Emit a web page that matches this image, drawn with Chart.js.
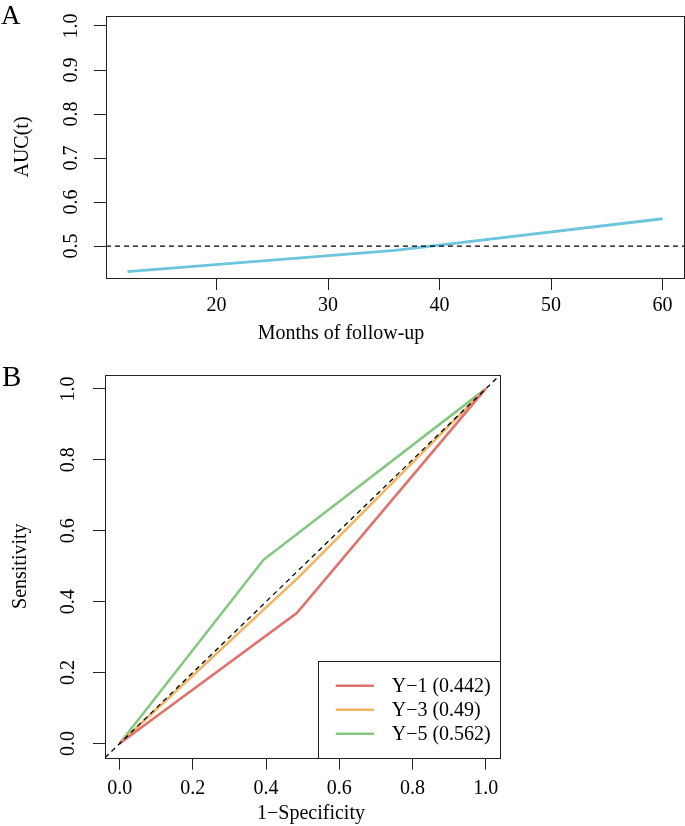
<!DOCTYPE html>
<html><head><meta charset="utf-8">
<script src="https://cdn.jsdelivr.net/npm/chart.js@4/dist/chart.umd.min.js"></script>
<style>
html,body{margin:0;padding:0;background:#fff;}
#wrap{position:relative;width:685px;height:826px;overflow:hidden;background:#fff;}
canvas{position:absolute;left:0;}
.lab{position:absolute;font-family:'Liberation Serif',serif;color:#000;line-height:1;}
</style></head><body>
<div id="wrap">
<canvas id="cA" width="685" height="350" style="top:0"></canvas>
<canvas id="cB" width="520" height="476" style="top:350px"></canvas>
<div class="lab" style="left:1px;top:2px;font-size:27px">A</div>
<div class="lab" style="left:2px;top:362px;font-size:29px">B</div>
</div>
<script>
// ---- Panel A: time-dependent AUC ----
const monthsA = [12, 36, 60];
const aucA = [0.442, 0.490, 0.562];
const xTicksA = [20, 30, 40, 50, 60];
const yTicksA = [0.5, 0.6, 0.7, 0.8, 0.9, 1.0];
const refAUC = 0.5;

// ---- Panel B: ROC curves ----
const rocLabels = ['Y\u22121 (0.442)', 'Y\u22123 (0.49)', 'Y\u22125 (0.562)'];
const fprY1 = [0, 0.484, 1];
const tprY1 = [0, 0.368, 1];
const fprY3 = [0, 0.490, 1];
const tprY3 = [0, 0.470, 1];
const fprY5 = [0, 0.393, 1];
const tprY5 = [0, 0.518, 1];
const rocTicks = [0.0, 0.2, 0.4, 0.6, 0.8, 1.0];

const SERIF = "'Liberation Serif', 'Times New Roman', serif";
const pts = (xs, ys) => xs.map((x, i) => ({x, y: ys[i]}));
const setTicks = arr => s => { s.ticks = arr.map(v => ({value: v})); };

const framePlugin = {
  id: 'frame',
  afterDraw(chart) {
    const a = chart.chartArea, c = chart.ctx;
    c.save();
    c.strokeStyle = '#222'; c.lineWidth = 1;
    const l = Math.round(a.left) + 0.5, t = Math.round(a.top) + 0.5;
    const r = Math.round(a.right) + 0.5, b = Math.round(a.bottom) + 0.5;
    c.strokeRect(l, t, r - l, b - t);
    c.restore();
  }
};

const xTitlePlugin = {
  id: 'xTitle',
  afterDraw(chart, args, o) {
    if (!o.text) return;
    const c = chart.ctx;
    c.save();
    c.font = '20px ' + SERIF; c.fillStyle = '#000';
    c.textAlign = 'center'; c.textBaseline = 'middle';
    c.fillText(o.text, o.x, o.y);
    c.restore();
  }
};

const refLinePlugin = {
  id: 'refLine',
  afterDatasetsDraw(chart, args, o) {
    const c = chart.ctx, xs = chart.scales.x, ys = chart.scales.y, a = chart.chartArea;
    c.save();
    c.beginPath();
    c.rect(a.left, a.top, a.right - a.left, a.bottom - a.top);
    c.clip();
    c.strokeStyle = '#000'; c.lineWidth = 1.3; c.setLineDash([5, 4]);
    c.beginPath();
    if (o.mode === 'h') {
      const y = ys.getPixelForValue(o.value);
      c.moveTo(a.left, y); c.lineTo(a.right, y);
    } else if (o.mode === 'diag') {
      c.moveTo(xs.getPixelForValue(xs.min), ys.getPixelForValue(ys.min));
      c.lineTo(xs.getPixelForValue(xs.max), ys.getPixelForValue(ys.max));
    }
    c.stroke();
    c.restore();
  }
};

const legendPlugin = {
  id: 'boxLegend',
  afterDraw(chart, args, o) {
    if (!o.show) return;
    const c = chart.ctx, a = chart.chartArea;
    const w = 182, h = 96.7;
    const L = Math.round(a.right - w) + 0.5, T = Math.round(a.bottom - h) + 0.5;
    const R = Math.round(a.right) + 0.5, B = Math.round(a.bottom) + 0.5;
    c.save();
    c.fillStyle = '#fff';
    c.fillRect(L, T, R - L, B - T);
    c.strokeStyle = '#222'; c.lineWidth = 1;
    c.strokeRect(L, T, R - L, B - T);
    c.font = '20px ' + SERIF; c.textBaseline = 'middle'; c.textAlign = 'left';
    chart.data.datasets.forEach((ds, i) => {
      const y = a.bottom - h + 24.7 + i * 24;
      c.strokeStyle = ds.borderColor; c.lineWidth = ds.borderWidth;
      c.beginPath(); c.moveTo(a.right - w + 17.4, y); c.lineTo(a.right - w + 55.7, y); c.stroke();
      c.fillStyle = '#000';
      c.fillText(ds.label, a.right - w + 73.4, y + 1);
    });
    c.restore();
  }
};

const tickFont = {family: SERIF, size: 20};
const gridOpts = {drawOnChartArea: false, drawTicks: true, tickLength: 12, color: '#222', lineWidth: 1};

function yAxis(range, ticks, width, pad, title, titlePad) {
  return {
    type: 'linear', min: range[0], max: range[1],
    afterBuildTicks: setTicks(ticks),
    afterFit: s => { s.width = width; s.paddingTop = 0; s.paddingBottom = 0; },
    ticks: {minRotation: 90, maxRotation: 90, crossAlign: 'center', padding: pad, color: '#000',
            font: tickFont, autoSkip: false, callback: v => Number(v).toFixed(1)},
    grid: gridOpts, border: {display: false},
    title: {display: true, text: title, color: '#000', font: {family: SERIF, size: 20}, padding: {top: titlePad, bottom: 0}}
  };
}
function xAxis(range, ticks, height, pad, fmt) {
  return {
    type: 'linear', min: range[0], max: range[1],
    afterBuildTicks: setTicks(ticks),
    afterFit: s => { s.height = height; s.paddingLeft = 0; s.paddingRight = 0; },
    ticks: {minRotation: 0, maxRotation: 0, padding: pad, color: '#000', font: tickFont, autoSkip: false, callback: fmt},
    grid: gridOpts, border: {display: false}
  };
}

const common = {
  responsive: false, animation: false, events: [],
  elements: {point: {radius: 0}, line: {tension: 0}}
};

new Chart(document.getElementById('cA'), {
  type: 'line',
  data: {datasets: [{label: 'AUC(t)', data: pts(monthsA, aucA), borderColor: '#6CC4DD', borderWidth: 2.8, fill: false}]},
  options: Object.assign({}, common, {
    layout: {padding: {top: 16, right: 1, left: 0, bottom: 0}},
    scales: {
      x: xAxis([10.08, 61.92], xTicksA, 72, 4, v => String(v)),
      y: yAxis([0.4274, 1.0227], yTicksA, 106, 10, 'AUC(t)', 11)
    },
    plugins: {legend: {display: false}, tooltip: {enabled: false},
      refLine: {mode: 'h', value: refAUC},
      xTitle: {text: 'Months of follow-up', x: 341, y: 334},
      boxLegend: {show: false}}
  }),
  plugins: [refLinePlugin, framePlugin, xTitlePlugin, legendPlugin]
});

new Chart(document.getElementById('cB'), {
  type: 'line',
  data: {datasets: [
    {label: rocLabels[0], data: pts(fprY1, tprY1), borderColor: '#E0716D', borderWidth: 2.6, fill: false},
    {label: rocLabels[1], data: pts(fprY3, tprY3), borderColor: '#F3B562', borderWidth: 2.6, fill: false},
    {label: rocLabels[2], data: pts(fprY5, tprY5), borderColor: '#84C880', borderWidth: 2.6, fill: false}
  ]},
  options: Object.assign({}, common, {
    layout: {padding: {top: 24.7, right: 19.7, left: 0, bottom: 0}},
    scales: {
      x: xAxis([-0.04, 1.04], rocTicks, 68.3, 7, v => Number(v).toFixed(1)),
      y: yAxis([-0.04, 1.04], rocTicks, 105, 12, 'Sensitivity', 9)
    },
    plugins: {legend: {display: false}, tooltip: {enabled: false},
      refLine: {mode: 'diag'},
      xTitle: {text: '1\u2212Specificity', x: 311, y: 464},
      boxLegend: {show: true}}
  }),
  plugins: [refLinePlugin, framePlugin, xTitlePlugin, legendPlugin]
});
</script>
</body></html>
